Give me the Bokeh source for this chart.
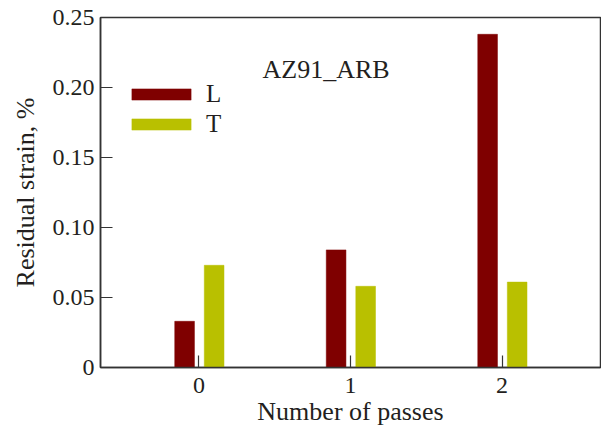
from bokeh.plotting import figure
from bokeh.models import (ColumnDataSource, FactorRange, Range1d, FixedTicker, Legend,
                          LegendItem, Label)
from bokeh.transform import dodge
from bokeh.embed import file_html
from bokeh.resources import INLINE

passes = ["0", "1", "2"]
strain_L = [0.033, 0.084, 0.238]
strain_T = [0.073, 0.058, 0.061]
y_ticks = [0, 0.05, 0.10, 0.15, 0.20, 0.25]
y_tick_labels = ["0", "0.05", "0.10", "0.15", "0.20", "0.25"]

FONT = "Liberation Serif"
TXT = "#231f20"
L_COLOR = "#7f0000"
T_COLOR = "#b9c000"

src = ColumnDataSource(dict(passes=passes, L=strain_L, T=strain_T))

p = figure(width=601, height=430, x_range=FactorRange(*passes, range_padding=0.1),
           y_range=Range1d(0, 0.25), output_backend="svg", toolbar_location=None,
           min_border_left=100, min_border_right=1, min_border_top=17, min_border_bottom=63)
p.background_fill_color = "white"
p.border_fill_color = "white"
p.outline_line_color = "#333333"
p.outline_line_width = 1.5
p.xgrid.visible = False
p.ygrid.visible = False

rL = p.vbar(x=dodge("passes", -0.095, range=p.x_range), top="L", width=0.13, source=src,
            fill_color=L_COLOR, line_color=L_COLOR, line_width=0.5)
rT = p.vbar(x=dodge("passes", 0.1, range=p.x_range), top="T", width=0.13, source=src,
            fill_color=T_COLOR, line_color=T_COLOR, line_width=0.5)

for ax in (p.xaxis[0], p.yaxis[0]):
    ax.axis_line_color = "#333333"
    ax.axis_line_width = 1.5
    ax.major_tick_line_color = "#333333"
    ax.major_tick_line_width = 1.2
    ax.major_tick_in = 12
    ax.major_tick_out = 0
    ax.minor_tick_in = 0
    ax.minor_tick_out = 0
    ax.major_label_text_font = FONT
    ax.major_label_text_font_size = "24px"
    ax.major_label_text_color = TXT
    ax.axis_label_text_font = FONT
    ax.axis_label_text_font_size = "26px"
    ax.axis_label_text_font_style = "normal"
    ax.axis_label_text_color = TXT

p.yaxis.ticker = FixedTicker(ticks=y_ticks)
p.yaxis.major_label_overrides = {t: s for t, s in zip(y_ticks, y_tick_labels)}
p.yaxis.major_label_standoff = 6
p.yaxis.axis_label = "Residual strain, %"
p.yaxis.axis_label_standoff = 10
p.xaxis.axis_label = "Number of passes"
p.xaxis.major_label_standoff = 10
p.xaxis.axis_label_standoff = 1

legend = Legend(items=[LegendItem(label="L", renderers=[rL]),
                       LegendItem(label="T", renderers=[rT])],
                location=(24, 229), padding=0, margin=0, spacing=2,
                glyph_width=74, glyph_height=14, label_standoff=8,
                label_text_font=FONT, label_text_font_size="25px",
                label_text_color=TXT, border_line_color=None,
                background_fill_alpha=0)
p.add_layout(legend)

p.add_layout(Label(x=162, y=298, x_units="screen", y_units="screen", text="AZ91_ARB",
                   text_font=FONT, text_font_size="26px", text_color=TXT,
                   text_baseline="middle"))

open("out.html", "w").write(file_html(p, INLINE))
